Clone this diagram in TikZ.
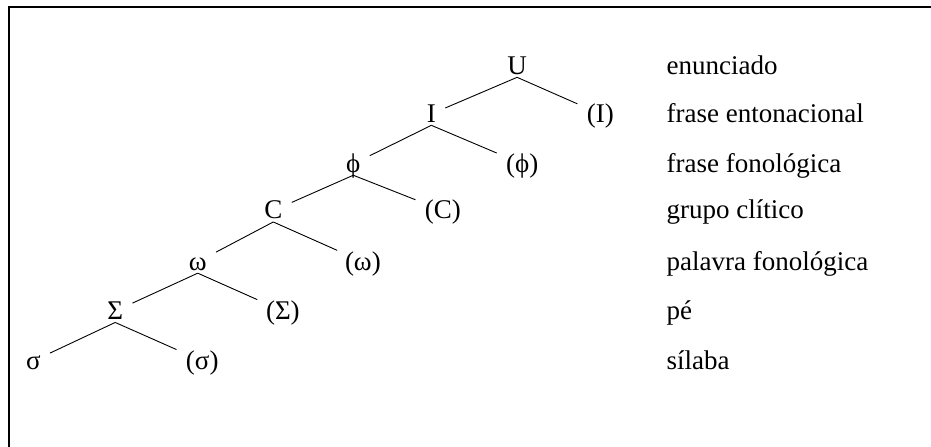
\documentclass[tikz,border=0pt]{standalone}
\usepackage{fontspec}
\setmainfont{Liberation Serif}
\begin{document}
\begin{tikzpicture}[every node/.style={font=\fontsize{12}{14}\selectfont, inner xsep=4pt, inner ysep=1.2pt, text height=1.6ex, text depth=0pt},
  cat/.style={},
  lvl/.style={anchor=west, inner xsep=0pt}]
\useasboundingbox (0,0) rectangle (14.547,-6.984);
\draw[line width=0.9pt] (0.148,-6.984) -- (0.148,-0.109) -- (14.547,-0.109);
% Baum
\node[cat] (U) at (8.08,-1.03) {U};
\node[cat] (I) at (6.74,-1.78) {I};
\node[cat] (Ir) at (9.38,-1.78) {(I)};
\node[cat] (phi) at (5.52,-2.56) {ϕ};
\node[cat] (phir) at (8.16,-2.56) {(ϕ)};
\node[cat] (C) at (4.27,-3.29) {C};
\node[cat] (Cr) at (6.92,-3.29) {(C)};
\node[cat] (om) at (3.09,-4.09) {ω};
\node[cat] (omr) at (5.67,-4.09) {(ω)};
\node[cat] (Sig) at (1.80,-4.86) {Σ};
\node[cat] (Sigr) at (4.42,-4.86) {(Σ)};
\node[cat] (sig) at (0.52,-5.64) {σ};
\node[cat] (sigr) at (3.16,-5.64) {(σ)};
\draw (U.south) -- (I);
\draw (U.south) -- (Ir);
\draw (I.south) -- (phi);
\draw (I.south) -- (phir);
\draw (phi.south) -- (C);
\draw (phi.south) -- (Cr);
\draw (C.south) -- (om);
\draw (C.south) -- (omr);
\draw (om.south) -- (Sig);
\draw (om.south) -- (Sigr);
\draw (Sig.south) -- (sig);
\draw (Sig.south) -- (sigr);
% Ebenen
\node[lvl] (l1) at (10.41,-1.03) {enunciado};
\node[lvl] (l2) at (10.41,-1.78) {frase entonacional};
\node[lvl] (l3) at (10.41,-2.56) {frase fonológica};
\node[lvl] (l4) at (10.41,-3.29) {grupo clítico};
\node[lvl] (l5) at (10.41,-4.09) {palavra fonológica};
\node[lvl] (l6) at (10.41,-4.86) {pé};
\node[lvl] (l7) at (10.41,-5.64) {sílaba};
\end{tikzpicture}
\end{document}
